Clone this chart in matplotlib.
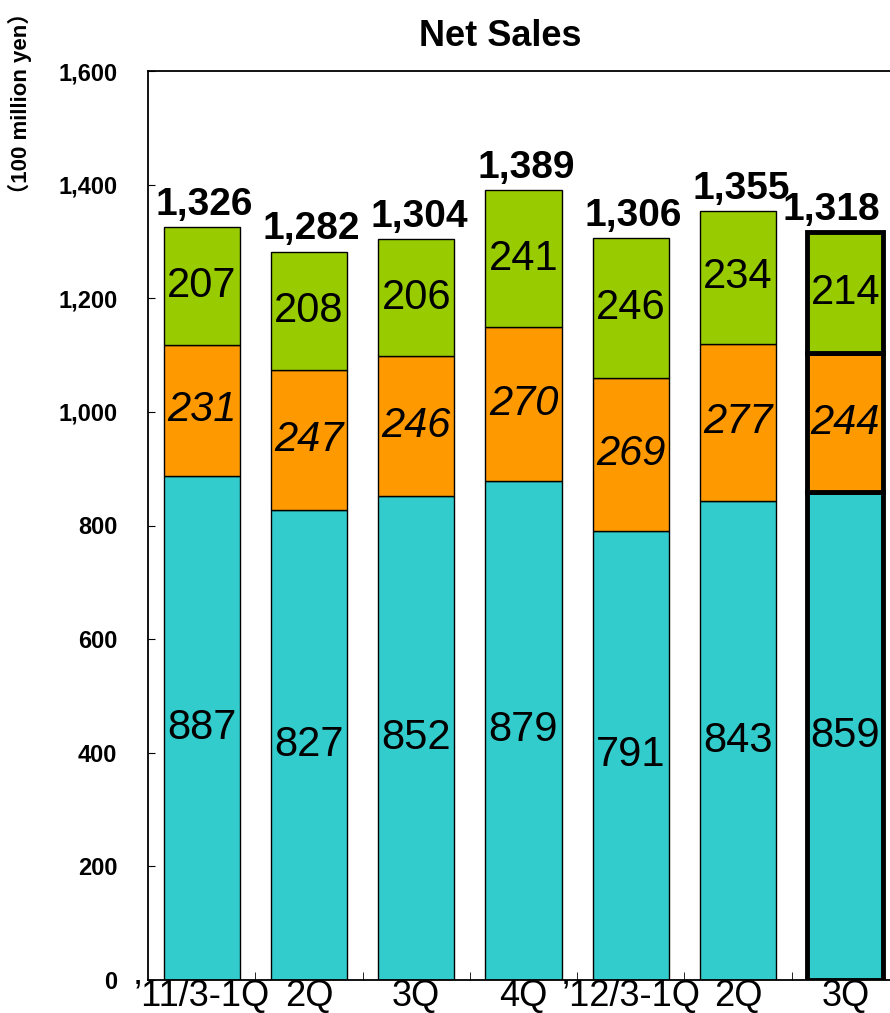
import matplotlib
matplotlib.use("Agg")
import matplotlib.pyplot as plt
from matplotlib.ticker import FuncFormatter, FixedLocator

# quarterly net sales, 100 million yen
quarters = ["\u201911/3-1Q", "2Q", "3Q", "4Q", "\u201912/3-1Q", "2Q", "3Q"]
seg_bottom = [887, 827, 852, 879, 791, 843, 859]
seg_middle = [231, 247, 246, 270, 269, 277, 244]
seg_top = [207, 208, 206, 241, 246, 234, 214]
totals = [1326, 1282, 1304, 1389, 1306, 1355, 1318]

c_bottom = "#33CCCC"
c_middle = "#FF9900"
c_top = "#99CC00"

fig = plt.figure(figsize=(8.9, 10.13), dpi=100)
ax = fig.add_axes([148 / 890, 1 - 980 / 1013, 751 / 890, 909 / 1013])

x = list(range(len(quarters)))
w = 0.71
lw = [1.0] * (len(x) - 1) + [3.5]

ax.bar(x, seg_bottom, width=w, color=c_bottom, edgecolor="black", linewidth=lw)
mid_base = seg_bottom
ax.bar(x, seg_middle, width=w, bottom=mid_base, color=c_middle,
       edgecolor="black", linewidth=lw)
top_base = [a + b for a, b in zip(seg_bottom, seg_middle)]
ax.bar(x, seg_top, width=w, bottom=top_base, color=c_top,
       edgecolor="black", linewidth=lw)

fam = "Liberation Sans"
for i in x:
    ax.text(i, seg_bottom[i] / 2, str(seg_bottom[i]), ha="center", va="center",
            fontsize=30, family=fam)
    ax.text(i, mid_base[i] + seg_middle[i] / 2, str(seg_middle[i]), ha="center",
            va="center", fontsize=30, style="italic", family=fam)
    ax.text(i, top_base[i] + seg_top[i] / 2, str(seg_top[i]), ha="center",
            va="center", fontsize=30, family=fam)
    # last label is nudged left so it stays inside the figure
    dx = -10 if i == len(x) - 1 else 2
    ax.annotate(f"{totals[i]:,}", (i, top_base[i] + seg_top[i]),
                xytext=(dx, 3), textcoords="offset points", ha="center",
                va="bottom", fontsize=28, fontweight="bold", family=fam)

ax.set_xlim(-0.5, len(x) - 0.5)
ax.set_ylim(0, 1600)
ax.set_yticks(range(0, 1601, 200))
ax.yaxis.set_major_formatter(FuncFormatter(lambda v, p: f"{int(v):,}"))
for lab in ax.get_yticklabels():
    lab.set_fontweight("bold")
    lab.set_family(fam)
ax.tick_params(axis="y", direction="in", length=5, pad=22, labelsize=17)

ax.set_xticks(x)
ax.set_xticklabels(quarters, fontsize=26, family=fam)
ax.tick_params(axis="x", which="major", length=0, pad=-1)
ax.xaxis.set_minor_locator(FixedLocator([i + 0.5 for i in x[:-1]]))
ax.tick_params(axis="x", which="minor", direction="in", length=6)

for s in ax.spines.values():
    s.set_linewidth(1.3)

fig.text(500 / 890, 1 - 36 / 1013, "Net Sales", ha="center", va="center",
         fontsize=26, fontweight="bold", family=fam)
fig.text(20 / 890, 1 - 103 / 1013, "\uff08100 million yen\uff09", rotation=90,
         ha="center", va="center", fontsize=16, fontweight="bold",
         family=[fam, "Noto Sans CJK JP"])

fig.savefig("out.png", dpi=100)
